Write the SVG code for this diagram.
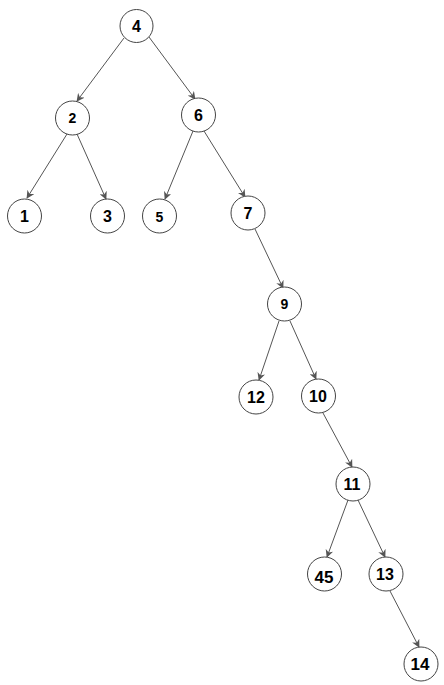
<svg xmlns="http://www.w3.org/2000/svg" width="444" height="685" viewBox="0 0 444 685">
<style>
.n circle{fill:#fff;stroke:#444;stroke-width:1}
.n text{font-family:"Liberation Sans",Arial,sans-serif;font-weight:bold;font-size:16px;fill:#000;text-anchor:middle;dominant-baseline:central}
.n text.s{font-size:14px}
.n text.l{font-size:17px}
#edges line{stroke:#555;stroke-width:1;marker-end:url(#arr)}
</style>
<defs>
<marker id="arr" viewBox="0 0 10 10" refX="9" refY="5" markerWidth="8" markerHeight="8" markerUnits="userSpaceOnUse" orient="auto">
<path d="M0,0 L10,5 L0,10 L3,5 z" fill="#555"/>
</marker>
</defs>
<rect width="444" height="685" fill="#fff"/>
<g id="edges">
<line x1="124" y1="38" x2="77" y2="101"/>
<line x1="149" y1="37" x2="195" y2="99"/>
<line x1="67" y1="134" x2="27" y2="198"/>
<line x1="77" y1="134" x2="106" y2="199"/>
<line x1="193" y1="131" x2="165" y2="199"/>
<line x1="204" y1="131" x2="245" y2="197"/>
<line x1="255" y1="229" x2="283" y2="288"/>
<line x1="279" y1="321" x2="259" y2="380"/>
<line x1="290" y1="321" x2="316" y2="379"/>
<line x1="323" y1="413" x2="352" y2="467"/>
<line x1="348" y1="500" x2="327" y2="557"/>
<line x1="358" y1="500" x2="385" y2="557"/>
<line x1="390" y1="591" x2="419" y2="647"/>
</g>
<g id="n4" class="n"><circle cx="136.5" cy="26" r="16.5"/><text x="136.5" y="26">4</text></g>
<g id="n2" class="n"><circle cx="72.5" cy="118" r="17"/><text class="s" x="72.5" y="118">2</text></g>
<g id="n6" class="n"><circle cx="198.5" cy="115" r="17"/><text x="198.5" y="115">6</text></g>
<g id="n1" class="n"><circle cx="24.5" cy="216" r="17"/><text x="24.5" y="216">1</text></g>
<g id="n3" class="n"><circle cx="107.5" cy="216" r="17"/><text x="107.5" y="216">3</text></g>
<g id="n5" class="n"><circle cx="159.5" cy="216" r="17"/><text class="s" x="159.5" y="217">5</text></g>
<g id="n7" class="n"><circle cx="248" cy="213" r="17"/><text x="248" y="213">7</text></g>
<g id="n9" class="n"><circle cx="284.5" cy="304" r="17"/><text class="s" x="284.5" y="304">9</text></g>
<g id="n12" class="n"><circle cx="256" cy="397" r="17"/><text x="256" y="397">12</text></g>
<g id="n10" class="n"><circle cx="318.5" cy="396" r="17"/><text x="318" y="396">10</text></g>
<g id="n11" class="n"><circle cx="353" cy="484" r="17"/><text x="352" y="484">11</text></g>
<g id="n45" class="n"><circle cx="324.5" cy="574" r="17"/><text class="l" x="324" y="577">45</text></g>
<g id="n13" class="n"><circle cx="386" cy="574" r="17"/><text x="385" y="574">13</text></g>
<g id="n14" class="n"><circle cx="421" cy="664" r="17"/><text class="l" x="420" y="664">14</text></g>
</svg>
